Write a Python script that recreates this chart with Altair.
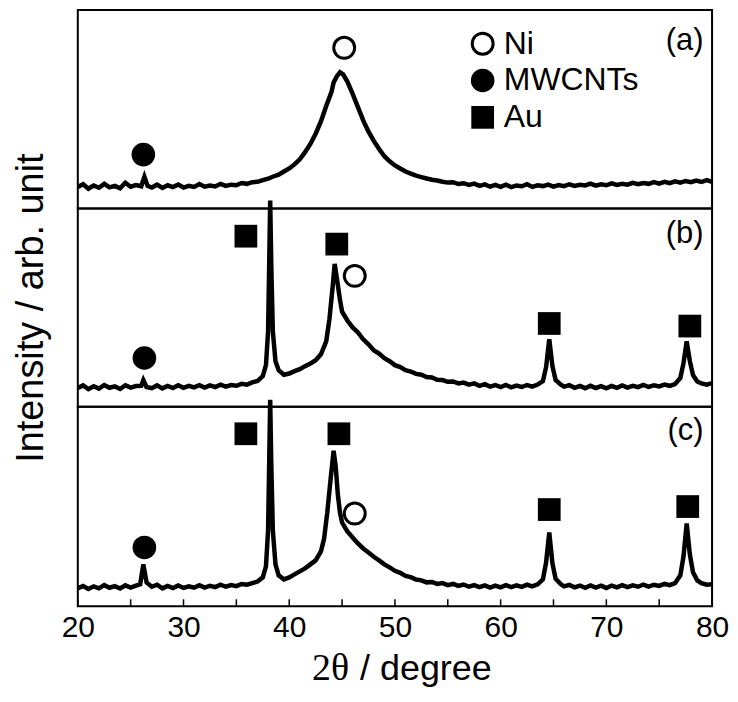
import altair as alt
import pandas as pd

# ---------------- data ----------------
X_A = [20.0, 20.5, 21.0, 21.5, 22.0, 22.5, 23.0, 23.5, 24.0, 24.5, 25.0, 25.5, 26.0, 26.3, 26.6,
       27.0, 27.5, 28.0, 28.5, 29.0, 29.5, 30.0, 30.5, 31.0, 31.5, 32.0, 32.5, 33.0, 33.5, 34.0,
       34.5, 35.0, 35.5, 36.0, 36.5, 37.0, 37.5, 38.0, 38.5, 39.0, 39.5, 40.0, 40.5, 41.0, 41.5,
       42.0, 42.5, 43.0, 43.5, 44.0, 44.2, 44.5, 44.8, 45.1, 45.5, 46.0, 46.5, 47.0, 47.5, 48.0, 48.5,
       49.0, 49.5, 50.0, 50.5, 51.0, 51.5, 52.0, 52.5, 53.0, 53.5, 54.0, 54.5, 55.0, 55.5, 56.0,
       56.5, 57.0, 57.5, 58.0, 58.5, 59.0, 59.5, 60.0, 60.5, 61.0, 61.5, 62.0, 62.5, 63.0, 63.5,
       64.0, 64.5, 65.0, 65.5, 66.0, 66.5, 67.0, 67.5, 68.0, 68.5, 69.0, 69.5, 70.0, 70.5, 71.0,
       71.5, 72.0, 72.5, 73.0, 73.5, 74.0, 74.5, 75.0, 75.5, 76.0, 76.5, 77.0, 77.5, 78.0, 78.5,
       79.0, 79.5, 80.0]
Y_A = [10.5, 11.8, 9.6, 11.2, 10.1, 12.0, 10.3, 11.0, 9.8, 12.5, 10.6, 11.4, 10.8, 15.5, 11.0,
       10.2, 11.6, 10.0, 11.3, 10.4, 11.7, 10.2, 11.0, 10.5, 11.9, 10.6, 11.2, 10.7, 12.0, 11.0,
       11.6, 11.3, 12.4, 12.0, 12.8, 13.0, 13.8, 14.5, 15.6, 16.5, 18.0, 19.5, 21.5, 24.0, 27.5,
       31.5, 36.5, 42.5, 50.0, 57.0, 61.5, 64.5, 66.5, 65.5, 62.0, 56.0, 49.5, 43.0, 37.5, 33.0, 29.0,
       25.5, 23.0, 21.0, 19.5, 18.0, 17.0, 16.0, 15.3, 14.6, 14.0, 13.6, 13.0, 12.6, 12.8, 11.9,
       12.3, 11.5, 12.1, 11.0, 11.7, 10.6, 11.5, 10.5, 11.6, 10.4, 11.2, 10.8, 11.8, 10.5, 11.3,
       10.9, 11.6, 10.6, 11.4, 10.9, 11.8, 11.0, 11.5, 11.2, 12.1, 11.1, 11.8, 11.3, 12.2, 11.5,
       12.0, 11.6, 12.5, 11.8, 12.4, 12.0, 12.8, 12.1, 13.0, 12.3, 13.2, 12.6, 13.4, 12.8, 13.6,
       12.9, 13.8, 13.0]

X_B = [20.0, 20.5, 21.0, 21.5, 22.0, 22.5, 23.0, 23.5, 24.0, 24.5, 25.0, 25.5, 26.0, 26.2, 26.5,
       27.0, 27.5, 28.0, 28.5, 29.0, 29.5, 30.0, 30.5, 31.0, 31.5, 32.0, 32.5, 33.0, 33.5, 34.0,
       34.5, 35.0, 35.5, 36.0, 36.5, 37.0, 37.5, 37.8, 38.0, 38.1, 38.2, 38.3, 38.45, 38.7, 39.0,
       39.5, 40.0, 40.5, 41.0, 41.5, 42.0, 42.5, 43.0, 43.5, 43.8, 44.1, 44.3, 44.5, 44.8, 45.0,
       45.5, 46.0, 46.5, 47.0, 47.5, 48.0, 48.5, 49.0, 49.5, 50.0, 50.5, 51.0, 51.5, 52.0, 52.5,
       53.0, 53.5, 54.0, 54.5, 55.0, 55.5, 56.0, 56.5, 57.0, 57.5, 58.0, 58.5, 59.0, 59.5, 60.0,
       60.5, 61.0, 61.5, 62.0, 62.5, 63.0, 63.5, 64.0, 64.3, 64.6, 64.9, 65.2, 65.7, 66.0, 66.5,
       67.0, 67.5, 68.0, 68.5, 69.0, 69.5, 70.0, 70.5, 71.0, 71.5, 72.0, 72.5, 73.0, 73.5, 74.0,
       74.5, 75.0, 75.5, 76.0, 76.5, 77.0, 77.3, 77.6, 77.9, 78.2, 78.6, 79.0, 79.5, 80.0]
Y_B = [9.5, 10.8, 8.9, 10.4, 9.2, 11.0, 9.6, 10.3, 9.0, 10.9, 9.7, 10.5, 10.6, 13.5, 10.0,
       9.4, 10.8, 9.3, 10.5, 9.5, 10.9, 9.6, 10.6, 9.8, 10.9, 9.7, 10.8, 10.0, 11.2, 10.2,
       11.0, 10.6, 11.6, 11.2, 12.3, 13.0, 15.5, 21.0, 38.0, 70.0, 104.0, 72.0, 38.0, 23.0, 18.5,
       16.2, 16.8, 18.0, 19.0, 20.5, 21.8, 23.5, 26.5, 33.0, 44.0, 60.0, 72.0, 65.0, 54.0, 48.0,
       43.5, 40.0, 37.5, 34.0, 31.5, 28.5, 26.8, 24.5, 23.0, 21.0, 20.0, 18.5, 17.8, 16.6, 16.2,
       15.0, 14.8, 13.6, 13.5, 12.6, 12.8, 11.8, 12.2, 11.2, 11.8, 10.6, 11.4, 10.2, 11.0, 10.0,
       11.0, 9.8, 10.7, 10.0, 11.0, 10.2, 11.2, 13.0, 20.0, 34.0, 20.5, 13.5, 11.2, 10.2, 10.9,
       9.6, 10.5, 9.4, 10.6, 9.5, 10.4, 9.3, 10.5, 9.6, 10.8, 9.7, 10.6, 9.9, 11.0, 10.0,
       10.8, 10.3, 11.2, 10.6, 11.5, 14.5, 22.0, 33.0, 23.0, 16.0, 12.8, 11.8, 11.2, 12.0]

X_C = [20.0, 20.5, 21.0, 21.5, 22.0, 22.5, 23.0, 23.5, 24.0, 24.5, 25.0, 25.5, 25.9, 26.2, 26.5,
       27.0, 27.5, 28.0, 28.5, 29.0, 29.5, 30.0, 30.5, 31.0, 31.5, 32.0, 32.5, 33.0, 33.5, 34.0,
       34.5, 35.0, 35.5, 36.0, 36.5, 37.0, 37.5, 37.8, 38.0, 38.1, 38.2, 38.3, 38.45, 38.7, 39.0,
       39.5, 40.0, 40.5, 41.0, 41.5, 42.0, 42.5, 43.0, 43.3, 43.6, 43.9, 44.2, 44.4, 44.6, 44.8,
       45.0, 45.5, 46.0, 46.5, 47.0, 47.5, 48.0, 48.5, 49.0, 49.5, 50.0, 50.5, 51.0, 51.5, 52.0,
       52.5, 53.0, 53.5, 54.0, 54.5, 55.0, 55.5, 56.0, 56.5, 57.0, 57.5, 58.0, 58.5, 59.0, 59.5,
       60.0, 60.5, 61.0, 61.5, 62.0, 62.5, 63.0, 63.5, 64.0, 64.3, 64.6, 64.9, 65.2, 65.7, 66.0,
       66.5, 67.0, 67.5, 68.0, 68.5, 69.0, 69.5, 70.0, 70.5, 71.0, 71.5, 72.0, 72.5, 73.0, 73.5,
       74.0, 74.5, 75.0, 75.5, 76.0, 76.5, 77.0, 77.3, 77.6, 77.9, 78.2, 78.6, 79.0, 79.5, 80.0]
Y_C = [9.0, 10.2, 8.7, 10.0, 9.0, 10.6, 9.3, 10.1, 8.9, 10.5, 9.4, 10.3, 11.0, 21.0, 12.0,
       9.8, 10.8, 9.0, 10.2, 9.1, 10.4, 9.2, 10.0, 9.3, 10.6, 9.4, 10.3, 9.6, 10.8, 9.8,
       10.6, 10.1, 11.2, 10.8, 11.6, 12.4, 14.5, 20.0, 38.0, 70.0, 103.5, 72.0, 38.0, 21.0, 15.5,
       13.5, 14.5, 16.0, 17.5, 19.0, 21.0, 23.0, 27.5, 34.0, 47.0, 63.0, 78.0, 70.0, 56.0, 47.0,
       42.0, 37.5, 34.5, 31.5, 29.0, 27.0, 24.8, 23.0, 21.0, 19.5, 17.8, 16.8, 15.2, 14.6, 13.4,
       13.0, 12.0, 12.2, 11.2, 11.6, 10.6, 11.2, 10.2, 10.9, 9.8, 10.6, 9.6, 10.5, 9.4, 10.4,
       9.5, 10.6, 9.6, 10.5, 9.7, 10.8, 10.0, 11.0, 13.5, 22.0, 37.0, 21.5, 13.8, 11.0, 10.0,
       10.7, 9.5, 10.4, 9.3, 10.5, 9.4, 10.3, 9.2, 10.4, 9.5, 10.6, 9.6, 10.5, 9.8, 10.9,
       9.9, 10.8, 10.2, 11.2, 10.6, 11.6, 15.5, 25.0, 41.5, 26.0, 17.0, 13.0, 11.6, 10.8, 11.0]

# peak markers: (2theta, height, kind)
MARK_A = [(45.2, 78.5, "Ni"), (26.2, 26.3, "MWCNTs")]
MARK_B = [(35.9, 86.0, "Au"), (44.5, 82.0, "Au"), (46.2, 66.0, "Ni"),
          (64.6, 42.0, "Au"), (77.9, 40.7, "Au"), (26.3, 24.6, "MWCNTs")]
MARK_C = [(35.9, 86.5, "Au"), (44.7, 86.5, "Au"), (46.2, 46.5, "Ni"),
          (64.6, 48.5, "Au"), (77.7, 50.0, "Au"), (26.3, 29.5, "MWCNTs")]

LEGEND_NAMES = ["Ni", "MWCNTs", "Au"]
LEGEND_X = 58.3
LEGEND_TEXT_X = 60.3
LEGEND_Y = [80.5, 62.5, 44.5]

PANEL_LABELS = ["(a)", "(b)", "(c)"]
PANEL_LABEL_Y = [82.0, 87.0, 88.0]
PANEL_LABEL_X = 79.2

TICKS = [20, 25, 30, 35, 40, 45, 50, 55, 60, 65, 70, 75, 80]
TICK_LABELS = [20, 30, 40, 50, 60, 70, 80]

FONT = "Liberation Sans"
W = 636
HEIGHTS = [199, 199, 200]
YMAX = [97, 100, 100]

xscale = alt.Scale(domain=[20, 80], nice=False, zero=False)


def panel(xs, ys, marks, idx, legend=False, bottom=False, ytitle=False):
    h = HEIGHTS[idx]
    yscale = alt.Scale(domain=[0, YMAX[idx]], nice=False, zero=False)
    if bottom:
        xaxis = alt.Axis(values=TICK_LABELS, ticks=False, domain=False, grid=False,
                         labelFont=FONT, labelFontSize=30, labelColor="black",
                         labelPadding=6, labelFlush=False, title=None)
    else:
        xaxis = None
    if ytitle:
        yaxis = alt.Axis(title="Intensity / arb. unit", labels=False, ticks=False,
                         domain=False, grid=False, titleFont=FONT, titleFontSize=38,
                         titleFontWeight="normal", titleColor="black", titlePadding=27)
    else:
        yaxis = None

    def X(f):
        return alt.X(f, type="quantitative", scale=xscale, axis=xaxis)

    def Y(f):
        return alt.Y(f, type="quantitative", scale=yscale, axis=yaxis)

    df = pd.DataFrame({"x": xs, "y": ys})
    line = alt.Chart(df).mark_line(color="black", strokeWidth=4.5, clip=False).encode(
        x=X("x"), y=Y("y"))

    mdf = pd.DataFrame(marks, columns=["x", "y", "kind"])
    if legend:
        ldf = pd.DataFrame({"x": [LEGEND_X] * 3, "y": LEGEND_Y, "kind": LEGEND_NAMES})
        mdf = pd.concat([mdf, ldf], ignore_index=True)

    ni = alt.Chart(mdf).transform_filter(alt.datum.kind == "Ni").mark_point(
        shape="circle", filled=False, size=440, strokeWidth=3, color="black", opacity=1
    ).encode(x=X("x"), y=Y("y"))
    cnt = alt.Chart(mdf).transform_filter(alt.datum.kind == "MWCNTs").mark_point(
        shape="circle", filled=True, size=560, color="black", opacity=1
    ).encode(x=X("x"), y=Y("y"))
    au = alt.Chart(mdf).transform_filter(alt.datum.kind == "Au").mark_point(
        shape="square", filled=True, size=520, color="black", opacity=1
    ).encode(x=X("x"), y=Y("y"))

    lab = alt.Chart(pd.DataFrame({"x": [PANEL_LABEL_X], "y": [PANEL_LABEL_Y[idx]],
                                  "t": [PANEL_LABELS[idx]]})).mark_text(
        font=FONT, fontSize=31, align="right", baseline="middle", color="black"
    ).encode(x=X("x"), y=Y("y"), text="t:N")

    layers = [line, ni, cnt, au, lab]

    if legend:
        ltxt = alt.Chart(pd.DataFrame({"x": [LEGEND_TEXT_X] * 3, "y": LEGEND_Y,
                                       "t": LEGEND_NAMES})).mark_text(
            font=FONT, fontSize=32, align="left", baseline="middle", color="black"
        ).encode(x=X("x"), y=Y("y"), text="t:N")
        layers.append(ltxt)

    if bottom:
        ticks = alt.Chart(pd.DataFrame({"t": TICKS})).mark_rule(
            color="black", strokeWidth=1.5
        ).encode(x=X("t"), y=alt.value(h), y2=alt.value(h - 7))
        t1 = alt.Chart(pd.DataFrame({"t": ["2θ"]})).mark_text(
            font="Liberation Serif", fontSize=38, align="right", baseline="alphabetic",
            color="black"
        ).encode(text="t:N", x=alt.value(272), y=alt.value(h + 74))
        t2 = alt.Chart(pd.DataFrame({"t": ["/ degree"]})).mark_text(
            font=FONT, fontSize=36, align="left", baseline="alphabetic", color="black"
        ).encode(text="t:N", x=alt.value(283), y=alt.value(h + 74))
        layers += [ticks, t1, t2]

    return alt.layer(*layers).properties(width=W, height=h)


pa = panel(X_A, Y_A, MARK_A, 0, legend=True)
pb = panel(X_B, Y_B, MARK_B, 1, ytitle=True)
pc = panel(X_C, Y_C, MARK_C, 2, bottom=True)

chart = alt.vconcat(pa, pb, pc, spacing=0, bounds="flush").properties(
    padding={"left": 4, "top": 0, "right": 0, "bottom": 0},
    background="white",
).configure_view(
    stroke="black", strokeWidth=2
)

chart.save("out.html", embed_options={"renderer": "svg", "actions": False})
